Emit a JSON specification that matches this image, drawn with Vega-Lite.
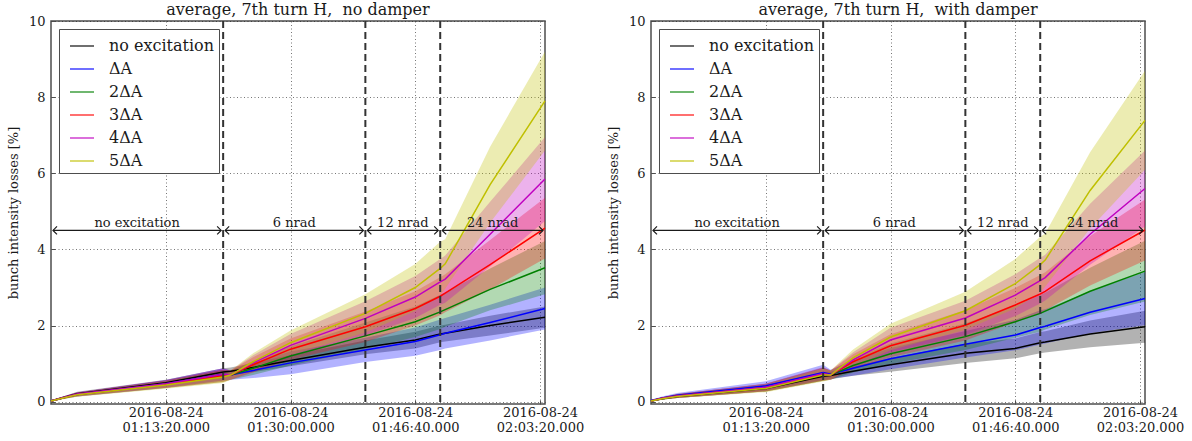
{
  "$schema": "https://vega.github.io/schema/vega-lite/v6.json",
  "background": "white",
  "padding": {"left": 6, "top": 1, "right": 5, "bottom": 5},
  "bounds": "flush",
  "spacing": 106,
  "config": {
    "font": "DejaVu Serif",
    "view": {"stroke": "#4d4d4d", "strokeWidth": 1.5},
    "axis": {
      "labelFont": "DejaVu Serif", "labelFontSize": 13, "labelColor": "#1a1a1a",
      "titleFont": "DejaVu Serif", "titleFontSize": 13, "titleFontWeight": "normal", "titleColor": "#1a1a1a",
      "domain": false, "grid": true, "gridColor": "#1a1a1a", "gridDash": [1, 2.5], "gridWidth": 0.8, "gridOpacity": 0.75,
      "ticks": true, "tickColor": "#4d4d4d", "tickSize": -4, "tickWidth": 1,
      "labelOverlap": false, "labelFlush": false
    },
    "axisX": {"labelPadding": 6, "labelLineHeight": 15.7},
    "axisY": {"labelPadding": 10, "titlePadding": 8},
    "legend": {
      "orient": "top-left", "offset": 8,
      "labelFont": "DejaVu Serif", "labelFontSize": 16, "labelColor": "#1a1a1a", "labelOffset": 14,
      "symbolType": "stroke", "symbolSize": 576, "symbolStrokeWidth": 1.5, "symbolOpacity": 0.75, "symbolOffset": 6,
      "rowPadding": 2, "padding": 4, "fillColor": "white", "strokeColor": "#4d4d4d", "cornerRadius": 0
    },
    "title": {"font": "DejaVu Serif", "fontSize": 16, "fontWeight": "normal", "color": "#1a1a1a", "offset": -3}
  },
  "resolve": {"legend": {"color": "independent"}},
  "datasets": {
    "phases": [
      {"phase": "no excitation", "start": "2016-08-24T00:58:00Z", "end": "2016-08-24T01:21:00Z"},
      {"phase": "6 nrad", "start": "2016-08-24T01:21:00Z", "end": "2016-08-24T01:40:00Z"},
      {"phase": "12 nrad", "start": "2016-08-24T01:40:00Z", "end": "2016-08-24T01:50:00Z"},
      {"phase": "24 nrad", "start": "2016-08-24T01:50:00Z", "end": "2016-08-24T02:04:00Z"}
    ],
    "boundaries": [
      {"time": "2016-08-24T01:21:00Z"},
      {"time": "2016-08-24T01:40:00Z"},
      {"time": "2016-08-24T01:50:00Z"}
    ],
    "no_damper": [
      {"series": "no excitation", "time": "2016-08-24T00:58:00Z", "mean": 0.02, "lo": 0.00, "hi": 0.04},
      {"series": "no excitation", "time": "2016-08-24T00:59:30Z", "mean": 0.10, "lo": 0.07, "hi": 0.13},
      {"series": "no excitation", "time": "2016-08-24T01:01:30Z", "mean": 0.21, "lo": 0.16, "hi": 0.26},
      {"series": "no excitation", "time": "2016-08-24T01:13:20Z", "mean": 0.50, "lo": 0.42, "hi": 0.58},
      {"series": "no excitation", "time": "2016-08-24T01:21:00Z", "mean": 0.78, "lo": 0.68, "hi": 0.88},
      {"series": "no excitation", "time": "2016-08-24T01:22:00Z", "mean": 0.80, "lo": 0.70, "hi": 0.90},
      {"series": "no excitation", "time": "2016-08-24T01:25:00Z", "mean": 0.90, "lo": 0.78, "hi": 1.02},
      {"series": "no excitation", "time": "2016-08-24T01:30:00Z", "mean": 1.08, "lo": 0.93, "hi": 1.23},
      {"series": "no excitation", "time": "2016-08-24T01:40:00Z", "mean": 1.43, "lo": 1.25, "hi": 1.61},
      {"series": "no excitation", "time": "2016-08-24T01:46:40Z", "mean": 1.62, "lo": 1.40, "hi": 1.84},
      {"series": "no excitation", "time": "2016-08-24T01:50:00Z", "mean": 1.78, "lo": 1.56, "hi": 2.00},
      {"series": "no excitation", "time": "2016-08-24T01:50:40Z", "mean": 1.80, "lo": 1.58, "hi": 2.02},
      {"series": "no excitation", "time": "2016-08-24T01:56:40Z", "mean": 2.00, "lo": 1.74, "hi": 2.26},
      {"series": "no excitation", "time": "2016-08-24T02:04:00Z", "mean": 2.22, "lo": 1.94, "hi": 2.50},
      {"series": "ΔA", "time": "2016-08-24T00:58:00Z", "mean": 0.02, "lo": 0.00, "hi": 0.04},
      {"series": "ΔA", "time": "2016-08-24T00:59:30Z", "mean": 0.10, "lo": 0.07, "hi": 0.13},
      {"series": "ΔA", "time": "2016-08-24T01:01:30Z", "mean": 0.19, "lo": 0.14, "hi": 0.24},
      {"series": "ΔA", "time": "2016-08-24T01:13:20Z", "mean": 0.47, "lo": 0.37, "hi": 0.57},
      {"series": "ΔA", "time": "2016-08-24T01:21:00Z", "mean": 0.72, "lo": 0.56, "hi": 0.88},
      {"series": "ΔA", "time": "2016-08-24T01:22:00Z", "mean": 0.70, "lo": 0.58, "hi": 0.82},
      {"series": "ΔA", "time": "2016-08-24T01:25:00Z", "mean": 0.82, "lo": 0.62, "hi": 1.02},
      {"series": "ΔA", "time": "2016-08-24T01:30:00Z", "mean": 1.02, "lo": 0.72, "hi": 1.32},
      {"series": "ΔA", "time": "2016-08-24T01:40:00Z", "mean": 1.36, "lo": 1.04, "hi": 1.68},
      {"series": "ΔA", "time": "2016-08-24T01:46:40Z", "mean": 1.58, "lo": 1.21, "hi": 1.95},
      {"series": "ΔA", "time": "2016-08-24T01:50:00Z", "mean": 1.76, "lo": 1.36, "hi": 2.16},
      {"series": "ΔA", "time": "2016-08-24T01:50:40Z", "mean": 1.80, "lo": 1.40, "hi": 2.20},
      {"series": "ΔA", "time": "2016-08-24T01:56:40Z", "mean": 2.08, "lo": 1.61, "hi": 2.55},
      {"series": "ΔA", "time": "2016-08-24T02:04:00Z", "mean": 2.45, "lo": 1.90, "hi": 3.00},
      {"series": "2ΔA", "time": "2016-08-24T00:58:00Z", "mean": 0.02, "lo": 0.00, "hi": 0.04},
      {"series": "2ΔA", "time": "2016-08-24T00:59:30Z", "mean": 0.10, "lo": 0.07, "hi": 0.13},
      {"series": "2ΔA", "time": "2016-08-24T01:01:30Z", "mean": 0.19, "lo": 0.14, "hi": 0.24},
      {"series": "2ΔA", "time": "2016-08-24T01:13:20Z", "mean": 0.46, "lo": 0.36, "hi": 0.56},
      {"series": "2ΔA", "time": "2016-08-24T01:21:00Z", "mean": 0.68, "lo": 0.52, "hi": 0.84},
      {"series": "2ΔA", "time": "2016-08-24T01:22:00Z", "mean": 0.70, "lo": 0.58, "hi": 0.82},
      {"series": "2ΔA", "time": "2016-08-24T01:25:00Z", "mean": 0.88, "lo": 0.70, "hi": 1.06},
      {"series": "2ΔA", "time": "2016-08-24T01:30:00Z", "mean": 1.20, "lo": 0.95, "hi": 1.45},
      {"series": "2ΔA", "time": "2016-08-24T01:40:00Z", "mean": 1.73, "lo": 1.38, "hi": 2.08},
      {"series": "2ΔA", "time": "2016-08-24T01:46:40Z", "mean": 2.10, "lo": 1.70, "hi": 2.50},
      {"series": "2ΔA", "time": "2016-08-24T01:50:00Z", "mean": 2.36, "lo": 1.91, "hi": 2.81},
      {"series": "2ΔA", "time": "2016-08-24T01:50:40Z", "mean": 2.42, "lo": 1.97, "hi": 2.87},
      {"series": "2ΔA", "time": "2016-08-24T01:56:40Z", "mean": 2.95, "lo": 2.40, "hi": 3.50},
      {"series": "2ΔA", "time": "2016-08-24T02:04:00Z", "mean": 3.52, "lo": 2.82, "hi": 4.22},
      {"series": "3ΔA", "time": "2016-08-24T00:58:00Z", "mean": 0.02, "lo": 0.00, "hi": 0.04},
      {"series": "3ΔA", "time": "2016-08-24T00:59:30Z", "mean": 0.10, "lo": 0.07, "hi": 0.13},
      {"series": "3ΔA", "time": "2016-08-24T01:01:30Z", "mean": 0.19, "lo": 0.14, "hi": 0.24},
      {"series": "3ΔA", "time": "2016-08-24T01:13:20Z", "mean": 0.46, "lo": 0.36, "hi": 0.56},
      {"series": "3ΔA", "time": "2016-08-24T01:21:00Z", "mean": 0.68, "lo": 0.52, "hi": 0.84},
      {"series": "3ΔA", "time": "2016-08-24T01:22:00Z", "mean": 0.70, "lo": 0.58, "hi": 0.82},
      {"series": "3ΔA", "time": "2016-08-24T01:25:00Z", "mean": 0.97, "lo": 0.77, "hi": 1.17},
      {"series": "3ΔA", "time": "2016-08-24T01:30:00Z", "mean": 1.38, "lo": 1.10, "hi": 1.66},
      {"series": "3ΔA", "time": "2016-08-24T01:40:00Z", "mean": 1.97, "lo": 1.57, "hi": 2.37},
      {"series": "3ΔA", "time": "2016-08-24T01:46:40Z", "mean": 2.45, "lo": 2.00, "hi": 2.90},
      {"series": "3ΔA", "time": "2016-08-24T01:50:00Z", "mean": 2.77, "lo": 2.27, "hi": 3.27},
      {"series": "3ΔA", "time": "2016-08-24T01:50:40Z", "mean": 2.85, "lo": 2.35, "hi": 3.35},
      {"series": "3ΔA", "time": "2016-08-24T01:56:40Z", "mean": 3.60, "lo": 2.95, "hi": 4.25},
      {"series": "3ΔA", "time": "2016-08-24T02:04:00Z", "mean": 4.56, "lo": 3.76, "hi": 5.36},
      {"series": "4ΔA", "time": "2016-08-24T00:58:00Z", "mean": 0.02, "lo": 0.00, "hi": 0.04},
      {"series": "4ΔA", "time": "2016-08-24T00:59:30Z", "mean": 0.10, "lo": 0.07, "hi": 0.13},
      {"series": "4ΔA", "time": "2016-08-24T01:01:30Z", "mean": 0.20, "lo": 0.15, "hi": 0.25},
      {"series": "4ΔA", "time": "2016-08-24T01:13:20Z", "mean": 0.47, "lo": 0.37, "hi": 0.57},
      {"series": "4ΔA", "time": "2016-08-24T01:21:00Z", "mean": 0.72, "lo": 0.56, "hi": 0.88},
      {"series": "4ΔA", "time": "2016-08-24T01:22:00Z", "mean": 0.70, "lo": 0.58, "hi": 0.82},
      {"series": "4ΔA", "time": "2016-08-24T01:25:00Z", "mean": 1.02, "lo": 0.82, "hi": 1.22},
      {"series": "4ΔA", "time": "2016-08-24T01:30:00Z", "mean": 1.48, "lo": 1.18, "hi": 1.78},
      {"series": "4ΔA", "time": "2016-08-24T01:40:00Z", "mean": 2.19, "lo": 1.74, "hi": 2.64},
      {"series": "4ΔA", "time": "2016-08-24T01:46:40Z", "mean": 2.75, "lo": 2.20, "hi": 3.30},
      {"series": "4ΔA", "time": "2016-08-24T01:50:00Z", "mean": 3.15, "lo": 2.55, "hi": 3.75},
      {"series": "4ΔA", "time": "2016-08-24T01:50:40Z", "mean": 3.22, "lo": 2.60, "hi": 3.84},
      {"series": "4ΔA", "time": "2016-08-24T01:56:40Z", "mean": 4.40, "lo": 3.55, "hi": 5.25},
      {"series": "4ΔA", "time": "2016-08-24T02:04:00Z", "mean": 5.85, "lo": 4.75, "hi": 6.95},
      {"series": "5ΔA", "time": "2016-08-24T00:58:00Z", "mean": 0.02, "lo": 0.00, "hi": 0.04},
      {"series": "5ΔA", "time": "2016-08-24T00:59:30Z", "mean": 0.09, "lo": 0.06, "hi": 0.12},
      {"series": "5ΔA", "time": "2016-08-24T01:01:30Z", "mean": 0.18, "lo": 0.13, "hi": 0.23},
      {"series": "5ΔA", "time": "2016-08-24T01:13:20Z", "mean": 0.44, "lo": 0.34, "hi": 0.54},
      {"series": "5ΔA", "time": "2016-08-24T01:21:00Z", "mean": 0.65, "lo": 0.49, "hi": 0.81},
      {"series": "5ΔA", "time": "2016-08-24T01:22:00Z", "mean": 0.70, "lo": 0.58, "hi": 0.82},
      {"series": "5ΔA", "time": "2016-08-24T01:25:00Z", "mean": 1.05, "lo": 0.83, "hi": 1.27},
      {"series": "5ΔA", "time": "2016-08-24T01:30:00Z", "mean": 1.55, "lo": 1.23, "hi": 1.87},
      {"series": "5ΔA", "time": "2016-08-24T01:40:00Z", "mean": 2.32, "lo": 1.82, "hi": 2.82},
      {"series": "5ΔA", "time": "2016-08-24T01:46:40Z", "mean": 3.00, "lo": 2.38, "hi": 3.62},
      {"series": "5ΔA", "time": "2016-08-24T01:50:00Z", "mean": 3.50, "lo": 2.80, "hi": 4.20},
      {"series": "5ΔA", "time": "2016-08-24T01:50:40Z", "mean": 3.62, "lo": 2.97, "hi": 4.27},
      {"series": "5ΔA", "time": "2016-08-24T01:56:40Z", "mean": 5.70, "lo": 4.70, "hi": 6.70},
      {"series": "5ΔA", "time": "2016-08-24T02:04:00Z", "mean": 7.90, "lo": 6.60, "hi": 9.20}
    ],
    "with_damper": [
      {"series": "no excitation", "time": "2016-08-24T00:58:00Z", "mean": 0.02, "lo": 0.00, "hi": 0.04},
      {"series": "no excitation", "time": "2016-08-24T00:59:30Z", "mean": 0.08, "lo": 0.05, "hi": 0.11},
      {"series": "no excitation", "time": "2016-08-24T01:01:30Z", "mean": 0.14, "lo": 0.10, "hi": 0.18},
      {"series": "no excitation", "time": "2016-08-24T01:13:20Z", "mean": 0.35, "lo": 0.27, "hi": 0.43},
      {"series": "no excitation", "time": "2016-08-24T01:21:00Z", "mean": 0.67, "lo": 0.55, "hi": 0.79},
      {"series": "no excitation", "time": "2016-08-24T01:22:00Z", "mean": 0.69, "lo": 0.59, "hi": 0.79},
      {"series": "no excitation", "time": "2016-08-24T01:25:00Z", "mean": 0.80, "lo": 0.68, "hi": 0.92},
      {"series": "no excitation", "time": "2016-08-24T01:30:00Z", "mean": 0.97, "lo": 0.79, "hi": 1.15},
      {"series": "no excitation", "time": "2016-08-24T01:40:00Z", "mean": 1.27, "lo": 1.02, "hi": 1.52},
      {"series": "no excitation", "time": "2016-08-24T01:46:40Z", "mean": 1.40, "lo": 1.14, "hi": 1.66},
      {"series": "no excitation", "time": "2016-08-24T01:50:00Z", "mean": 1.55, "lo": 1.27, "hi": 1.83},
      {"series": "no excitation", "time": "2016-08-24T01:50:40Z", "mean": 1.57, "lo": 1.29, "hi": 1.85},
      {"series": "no excitation", "time": "2016-08-24T01:56:40Z", "mean": 1.78, "lo": 1.43, "hi": 2.13},
      {"series": "no excitation", "time": "2016-08-24T02:04:00Z", "mean": 1.97, "lo": 1.55, "hi": 2.39},
      {"series": "ΔA", "time": "2016-08-24T00:58:00Z", "mean": 0.03, "lo": 0.01, "hi": 0.05},
      {"series": "ΔA", "time": "2016-08-24T00:59:30Z", "mean": 0.10, "lo": 0.06, "hi": 0.14},
      {"series": "ΔA", "time": "2016-08-24T01:01:30Z", "mean": 0.17, "lo": 0.11, "hi": 0.23},
      {"series": "ΔA", "time": "2016-08-24T01:13:20Z", "mean": 0.42, "lo": 0.30, "hi": 0.54},
      {"series": "ΔA", "time": "2016-08-24T01:21:00Z", "mean": 0.77, "lo": 0.57, "hi": 0.97},
      {"series": "ΔA", "time": "2016-08-24T01:22:00Z", "mean": 0.72, "lo": 0.60, "hi": 0.84},
      {"series": "ΔA", "time": "2016-08-24T01:25:00Z", "mean": 0.88, "lo": 0.68, "hi": 1.08},
      {"series": "ΔA", "time": "2016-08-24T01:30:00Z", "mean": 1.13, "lo": 0.85, "hi": 1.41},
      {"series": "ΔA", "time": "2016-08-24T01:40:00Z", "mean": 1.51, "lo": 1.16, "hi": 1.86},
      {"series": "ΔA", "time": "2016-08-24T01:46:40Z", "mean": 1.75, "lo": 1.35, "hi": 2.15},
      {"series": "ΔA", "time": "2016-08-24T01:50:00Z", "mean": 1.95, "lo": 1.50, "hi": 2.40},
      {"series": "ΔA", "time": "2016-08-24T01:50:40Z", "mean": 1.98, "lo": 1.53, "hi": 2.43},
      {"series": "ΔA", "time": "2016-08-24T01:56:40Z", "mean": 2.35, "lo": 1.80, "hi": 2.90},
      {"series": "ΔA", "time": "2016-08-24T02:04:00Z", "mean": 2.71, "lo": 2.01, "hi": 3.41},
      {"series": "2ΔA", "time": "2016-08-24T00:58:00Z", "mean": 0.02, "lo": 0.00, "hi": 0.04},
      {"series": "2ΔA", "time": "2016-08-24T00:59:30Z", "mean": 0.09, "lo": 0.06, "hi": 0.12},
      {"series": "2ΔA", "time": "2016-08-24T01:01:30Z", "mean": 0.15, "lo": 0.10, "hi": 0.20},
      {"series": "2ΔA", "time": "2016-08-24T01:13:20Z", "mean": 0.37, "lo": 0.27, "hi": 0.47},
      {"series": "2ΔA", "time": "2016-08-24T01:21:00Z", "mean": 0.72, "lo": 0.55, "hi": 0.89},
      {"series": "2ΔA", "time": "2016-08-24T01:22:00Z", "mean": 0.70, "lo": 0.58, "hi": 0.82},
      {"series": "2ΔA", "time": "2016-08-24T01:25:00Z", "mean": 0.95, "lo": 0.77, "hi": 1.13},
      {"series": "2ΔA", "time": "2016-08-24T01:30:00Z", "mean": 1.26, "lo": 0.99, "hi": 1.53},
      {"series": "2ΔA", "time": "2016-08-24T01:40:00Z", "mean": 1.71, "lo": 1.36, "hi": 2.06},
      {"series": "2ΔA", "time": "2016-08-24T01:46:40Z", "mean": 2.10, "lo": 1.68, "hi": 2.52},
      {"series": "2ΔA", "time": "2016-08-24T01:50:00Z", "mean": 2.32, "lo": 1.84, "hi": 2.80},
      {"series": "2ΔA", "time": "2016-08-24T01:50:40Z", "mean": 2.38, "lo": 1.90, "hi": 2.86},
      {"series": "2ΔA", "time": "2016-08-24T01:56:40Z", "mean": 2.90, "lo": 2.28, "hi": 3.52},
      {"series": "2ΔA", "time": "2016-08-24T02:04:00Z", "mean": 3.43, "lo": 2.63, "hi": 4.23},
      {"series": "3ΔA", "time": "2016-08-24T00:58:00Z", "mean": 0.02, "lo": 0.00, "hi": 0.04},
      {"series": "3ΔA", "time": "2016-08-24T00:59:30Z", "mean": 0.09, "lo": 0.06, "hi": 0.12},
      {"series": "3ΔA", "time": "2016-08-24T01:01:30Z", "mean": 0.15, "lo": 0.10, "hi": 0.20},
      {"series": "3ΔA", "time": "2016-08-24T01:13:20Z", "mean": 0.37, "lo": 0.27, "hi": 0.47},
      {"series": "3ΔA", "time": "2016-08-24T01:21:00Z", "mean": 0.72, "lo": 0.55, "hi": 0.89},
      {"series": "3ΔA", "time": "2016-08-24T01:22:00Z", "mean": 0.70, "lo": 0.58, "hi": 0.82},
      {"series": "3ΔA", "time": "2016-08-24T01:25:00Z", "mean": 1.05, "lo": 0.85, "hi": 1.25},
      {"series": "3ΔA", "time": "2016-08-24T01:30:00Z", "mean": 1.47, "lo": 1.17, "hi": 1.77},
      {"series": "3ΔA", "time": "2016-08-24T01:40:00Z", "mean": 2.01, "lo": 1.61, "hi": 2.41},
      {"series": "3ΔA", "time": "2016-08-24T01:46:40Z", "mean": 2.54, "lo": 2.09, "hi": 2.99},
      {"series": "3ΔA", "time": "2016-08-24T01:50:00Z", "mean": 2.83, "lo": 2.33, "hi": 3.33},
      {"series": "3ΔA", "time": "2016-08-24T01:50:40Z", "mean": 2.90, "lo": 2.40, "hi": 3.40},
      {"series": "3ΔA", "time": "2016-08-24T01:56:40Z", "mean": 3.70, "lo": 3.05, "hi": 4.35},
      {"series": "3ΔA", "time": "2016-08-24T02:04:00Z", "mean": 4.51, "lo": 3.71, "hi": 5.31},
      {"series": "4ΔA", "time": "2016-08-24T00:58:00Z", "mean": 0.02, "lo": 0.00, "hi": 0.04},
      {"series": "4ΔA", "time": "2016-08-24T00:59:30Z", "mean": 0.09, "lo": 0.06, "hi": 0.12},
      {"series": "4ΔA", "time": "2016-08-24T01:01:30Z", "mean": 0.15, "lo": 0.10, "hi": 0.20},
      {"series": "4ΔA", "time": "2016-08-24T01:13:20Z", "mean": 0.38, "lo": 0.28, "hi": 0.48},
      {"series": "4ΔA", "time": "2016-08-24T01:21:00Z", "mean": 0.74, "lo": 0.57, "hi": 0.91},
      {"series": "4ΔA", "time": "2016-08-24T01:22:00Z", "mean": 0.70, "lo": 0.58, "hi": 0.82},
      {"series": "4ΔA", "time": "2016-08-24T01:25:00Z", "mean": 1.10, "lo": 0.90, "hi": 1.30},
      {"series": "4ΔA", "time": "2016-08-24T01:30:00Z", "mean": 1.62, "lo": 1.30, "hi": 1.94},
      {"series": "4ΔA", "time": "2016-08-24T01:40:00Z", "mean": 2.20, "lo": 1.75, "hi": 2.65},
      {"series": "4ΔA", "time": "2016-08-24T01:46:40Z", "mean": 2.80, "lo": 2.25, "hi": 3.35},
      {"series": "4ΔA", "time": "2016-08-24T01:50:00Z", "mean": 3.18, "lo": 2.58, "hi": 3.78},
      {"series": "4ΔA", "time": "2016-08-24T01:50:40Z", "mean": 3.26, "lo": 2.66, "hi": 3.86},
      {"series": "4ΔA", "time": "2016-08-24T01:56:40Z", "mean": 4.40, "lo": 3.60, "hi": 5.20},
      {"series": "4ΔA", "time": "2016-08-24T02:04:00Z", "mean": 5.60, "lo": 4.60, "hi": 6.60},
      {"series": "5ΔA", "time": "2016-08-24T00:58:00Z", "mean": 0.02, "lo": 0.00, "hi": 0.04},
      {"series": "5ΔA", "time": "2016-08-24T00:59:30Z", "mean": 0.08, "lo": 0.05, "hi": 0.11},
      {"series": "5ΔA", "time": "2016-08-24T01:01:30Z", "mean": 0.14, "lo": 0.10, "hi": 0.18},
      {"series": "5ΔA", "time": "2016-08-24T01:13:20Z", "mean": 0.35, "lo": 0.25, "hi": 0.45},
      {"series": "5ΔA", "time": "2016-08-24T01:21:00Z", "mean": 0.70, "lo": 0.53, "hi": 0.87},
      {"series": "5ΔA", "time": "2016-08-24T01:22:00Z", "mean": 0.70, "lo": 0.58, "hi": 0.82},
      {"series": "5ΔA", "time": "2016-08-24T01:25:00Z", "mean": 1.15, "lo": 0.93, "hi": 1.37},
      {"series": "5ΔA", "time": "2016-08-24T01:30:00Z", "mean": 1.70, "lo": 1.35, "hi": 2.05},
      {"series": "5ΔA", "time": "2016-08-24T01:40:00Z", "mean": 2.39, "lo": 1.89, "hi": 2.89},
      {"series": "5ΔA", "time": "2016-08-24T01:46:40Z", "mean": 3.10, "lo": 2.45, "hi": 3.75},
      {"series": "5ΔA", "time": "2016-08-24T01:50:00Z", "mean": 3.60, "lo": 2.87, "hi": 4.33},
      {"series": "5ΔA", "time": "2016-08-24T01:50:40Z", "mean": 3.72, "lo": 3.02, "hi": 4.42},
      {"series": "5ΔA", "time": "2016-08-24T01:56:40Z", "mean": 5.55, "lo": 4.55, "hi": 6.55},
      {"series": "5ΔA", "time": "2016-08-24T02:04:00Z", "mean": 7.39, "lo": 6.09, "hi": 8.69}
    ]
  },
  "hconcat": [
    {
      "width": 494,
      "height": 383,
      "title": "average, 7th turn H,\u00a0 no damper",
      "layer": [
        {
          "data": {"name": "no_damper"},
          "mark": {"type": "area", "fillOpacity": 0.3},
          "encoding": {
            "x": {"field": "time", "type": "temporal", "title": null,
              "scale": {"type": "utc", "nice": false, "domain": [
                {"year": 2016, "month": 8, "date": 24, "hours": 0, "minutes": 58, "seconds": 0, "utc": true},
                {"year": 2016, "month": 8, "date": 24, "hours": 2, "minutes": 4, "seconds": 0, "utc": true}]},
              "axis": {
                "values": [
                  {"year": 2016, "month": 8, "date": 24, "hours": 1, "minutes": 13, "seconds": 20, "utc": true},
                  {"year": 2016, "month": 8, "date": 24, "hours": 1, "minutes": 30, "seconds": 0, "utc": true},
                  {"year": 2016, "month": 8, "date": 24, "hours": 1, "minutes": 46, "seconds": 40, "utc": true},
                  {"year": 2016, "month": 8, "date": 24, "hours": 2, "minutes": 3, "seconds": 20, "utc": true}],
                "labelExpr": "[utcFormat(datum.value, '%Y-%m-%d'), utcFormat(datum.value, '%H:%M:%S') + '.000']"
              }
            },
            "y": {"field": "lo", "type": "quantitative", "title": "bunch intensity losses [%]",
              "scale": {"domain": [-0.06, 10], "nice": false, "zero": false},
              "axis": {"values": [0, 2, 4, 6, 8, 10]}},
            "y2": {"field": "hi"},
            "fill": {"field": "series", "type": "nominal", "legend": null,
              "scale": {"domain": ["no excitation", "ΔA", "2ΔA", "3ΔA", "4ΔA", "5ΔA"],
                        "range": ["#000000", "#0000ff", "#008000", "#ff0000", "#bf00bf", "#bfbf00"]}}
          }
        },
        {
          "data": {"name": "no_damper"},
          "mark": {"type": "line", "strokeWidth": 1.5},
          "encoding": {
            "x": {"field": "time", "type": "temporal", "title": null},
            "y": {"field": "mean", "type": "quantitative", "title": "bunch intensity losses [%]"},
            "color": {"field": "series", "type": "nominal",
              "scale": {"domain": ["no excitation", "ΔA", "2ΔA", "3ΔA", "4ΔA", "5ΔA"],
                        "range": ["#000000", "#0000ff", "#008000", "#ff0000", "#bf00bf", "#bfbf00"]},
              "legend": {"title": null}}
          }
        },
        {
          "data": {"name": "boundaries"},
          "mark": {"type": "rule", "color": "#333333", "strokeWidth": 2, "strokeDash": [7, 4]},
          "encoding": {"x": {"field": "time", "type": "temporal", "title": null}}
        },
        {
          "data": {"name": "phases"},
          "mark": {"type": "rule", "color": "#1a1a1a", "strokeWidth": 1.2, "xOffset": 2, "x2Offset": -2},
          "encoding": {
            "x": {"field": "start", "type": "temporal", "title": null},
            "x2": {"field": "end"},
            "y": {"datum": 4.5, "type": "quantitative"}
          }
        },
        {
          "data": {"name": "phases"},
          "mark": {"type": "point", "shape": "M1.2,-0.8L0.4,0L1.2,0.8", "size": 100, "filled": false, "color": "#1a1a1a", "strokeWidth": 1.2, "opacity": 1},
          "encoding": {
            "x": {"field": "start", "type": "temporal", "title": null},
            "y": {"datum": 4.5, "type": "quantitative"}
          }
        },
        {
          "data": {"name": "phases"},
          "mark": {"type": "point", "shape": "M-1.2,-0.8L-0.4,0L-1.2,0.8", "size": 100, "filled": false, "color": "#1a1a1a", "strokeWidth": 1.2, "opacity": 1},
          "encoding": {
            "x": {"field": "end", "type": "temporal", "title": null},
            "y": {"datum": 4.5, "type": "quantitative"}
          }
        },
        {
          "data": {"name": "phases"},
          "transform": [{"calculate": "(time(toDate(datum.start)) + time(toDate(datum.end))) / 2", "as": "mid"}],
          "mark": {"type": "text", "font": "DejaVu Serif", "fontSize": 13, "color": "#1a1a1a", "baseline": "alphabetic", "dy": -3.5},
          "encoding": {
            "x": {"field": "mid", "type": "temporal", "title": null},
            "y": {"datum": 4.5, "type": "quantitative"},
            "text": {"field": "phase"}
          }
        }
      ]
    },
    {
      "width": 494,
      "height": 383,
      "title": "average, 7th turn H,\u00a0 with damper",
      "layer": [
        {
          "data": {"name": "with_damper"},
          "mark": {"type": "area", "fillOpacity": 0.3},
          "encoding": {
            "x": {"field": "time", "type": "temporal", "title": null,
              "scale": {"type": "utc", "nice": false, "domain": [
                {"year": 2016, "month": 8, "date": 24, "hours": 0, "minutes": 58, "seconds": 0, "utc": true},
                {"year": 2016, "month": 8, "date": 24, "hours": 2, "minutes": 4, "seconds": 0, "utc": true}]},
              "axis": {
                "values": [
                  {"year": 2016, "month": 8, "date": 24, "hours": 1, "minutes": 13, "seconds": 20, "utc": true},
                  {"year": 2016, "month": 8, "date": 24, "hours": 1, "minutes": 30, "seconds": 0, "utc": true},
                  {"year": 2016, "month": 8, "date": 24, "hours": 1, "minutes": 46, "seconds": 40, "utc": true},
                  {"year": 2016, "month": 8, "date": 24, "hours": 2, "minutes": 3, "seconds": 20, "utc": true}],
                "labelExpr": "[utcFormat(datum.value, '%Y-%m-%d'), utcFormat(datum.value, '%H:%M:%S') + '.000']"
              }
            },
            "y": {"field": "lo", "type": "quantitative", "title": "bunch intensity losses [%]",
              "scale": {"domain": [-0.06, 10], "nice": false, "zero": false},
              "axis": {"values": [0, 2, 4, 6, 8, 10]}},
            "y2": {"field": "hi"},
            "fill": {"field": "series", "type": "nominal", "legend": null,
              "scale": {"domain": ["no excitation", "ΔA", "2ΔA", "3ΔA", "4ΔA", "5ΔA"],
                        "range": ["#000000", "#0000ff", "#008000", "#ff0000", "#bf00bf", "#bfbf00"]}}
          }
        },
        {
          "data": {"name": "with_damper"},
          "mark": {"type": "line", "strokeWidth": 1.5},
          "encoding": {
            "x": {"field": "time", "type": "temporal", "title": null},
            "y": {"field": "mean", "type": "quantitative", "title": "bunch intensity losses [%]"},
            "color": {"field": "series", "type": "nominal",
              "scale": {"domain": ["no excitation", "ΔA", "2ΔA", "3ΔA", "4ΔA", "5ΔA"],
                        "range": ["#000000", "#0000ff", "#008000", "#ff0000", "#bf00bf", "#bfbf00"]},
              "legend": {"title": null}}
          }
        },
        {
          "data": {"name": "boundaries"},
          "mark": {"type": "rule", "color": "#333333", "strokeWidth": 2, "strokeDash": [7, 4]},
          "encoding": {"x": {"field": "time", "type": "temporal", "title": null}}
        },
        {
          "data": {"name": "phases"},
          "mark": {"type": "rule", "color": "#1a1a1a", "strokeWidth": 1.2, "xOffset": 2, "x2Offset": -2},
          "encoding": {
            "x": {"field": "start", "type": "temporal", "title": null},
            "x2": {"field": "end"},
            "y": {"datum": 4.5, "type": "quantitative"}
          }
        },
        {
          "data": {"name": "phases"},
          "mark": {"type": "point", "shape": "M1.2,-0.8L0.4,0L1.2,0.8", "size": 100, "filled": false, "color": "#1a1a1a", "strokeWidth": 1.2, "opacity": 1},
          "encoding": {
            "x": {"field": "start", "type": "temporal", "title": null},
            "y": {"datum": 4.5, "type": "quantitative"}
          }
        },
        {
          "data": {"name": "phases"},
          "mark": {"type": "point", "shape": "M-1.2,-0.8L-0.4,0L-1.2,0.8", "size": 100, "filled": false, "color": "#1a1a1a", "strokeWidth": 1.2, "opacity": 1},
          "encoding": {
            "x": {"field": "end", "type": "temporal", "title": null},
            "y": {"datum": 4.5, "type": "quantitative"}
          }
        },
        {
          "data": {"name": "phases"},
          "transform": [{"calculate": "(time(toDate(datum.start)) + time(toDate(datum.end))) / 2", "as": "mid"}],
          "mark": {"type": "text", "font": "DejaVu Serif", "fontSize": 13, "color": "#1a1a1a", "baseline": "alphabetic", "dy": -3.5},
          "encoding": {
            "x": {"field": "mid", "type": "temporal", "title": null},
            "y": {"datum": 4.5, "type": "quantitative"},
            "text": {"field": "phase"}
          }
        }
      ]
    }
  ]
}
